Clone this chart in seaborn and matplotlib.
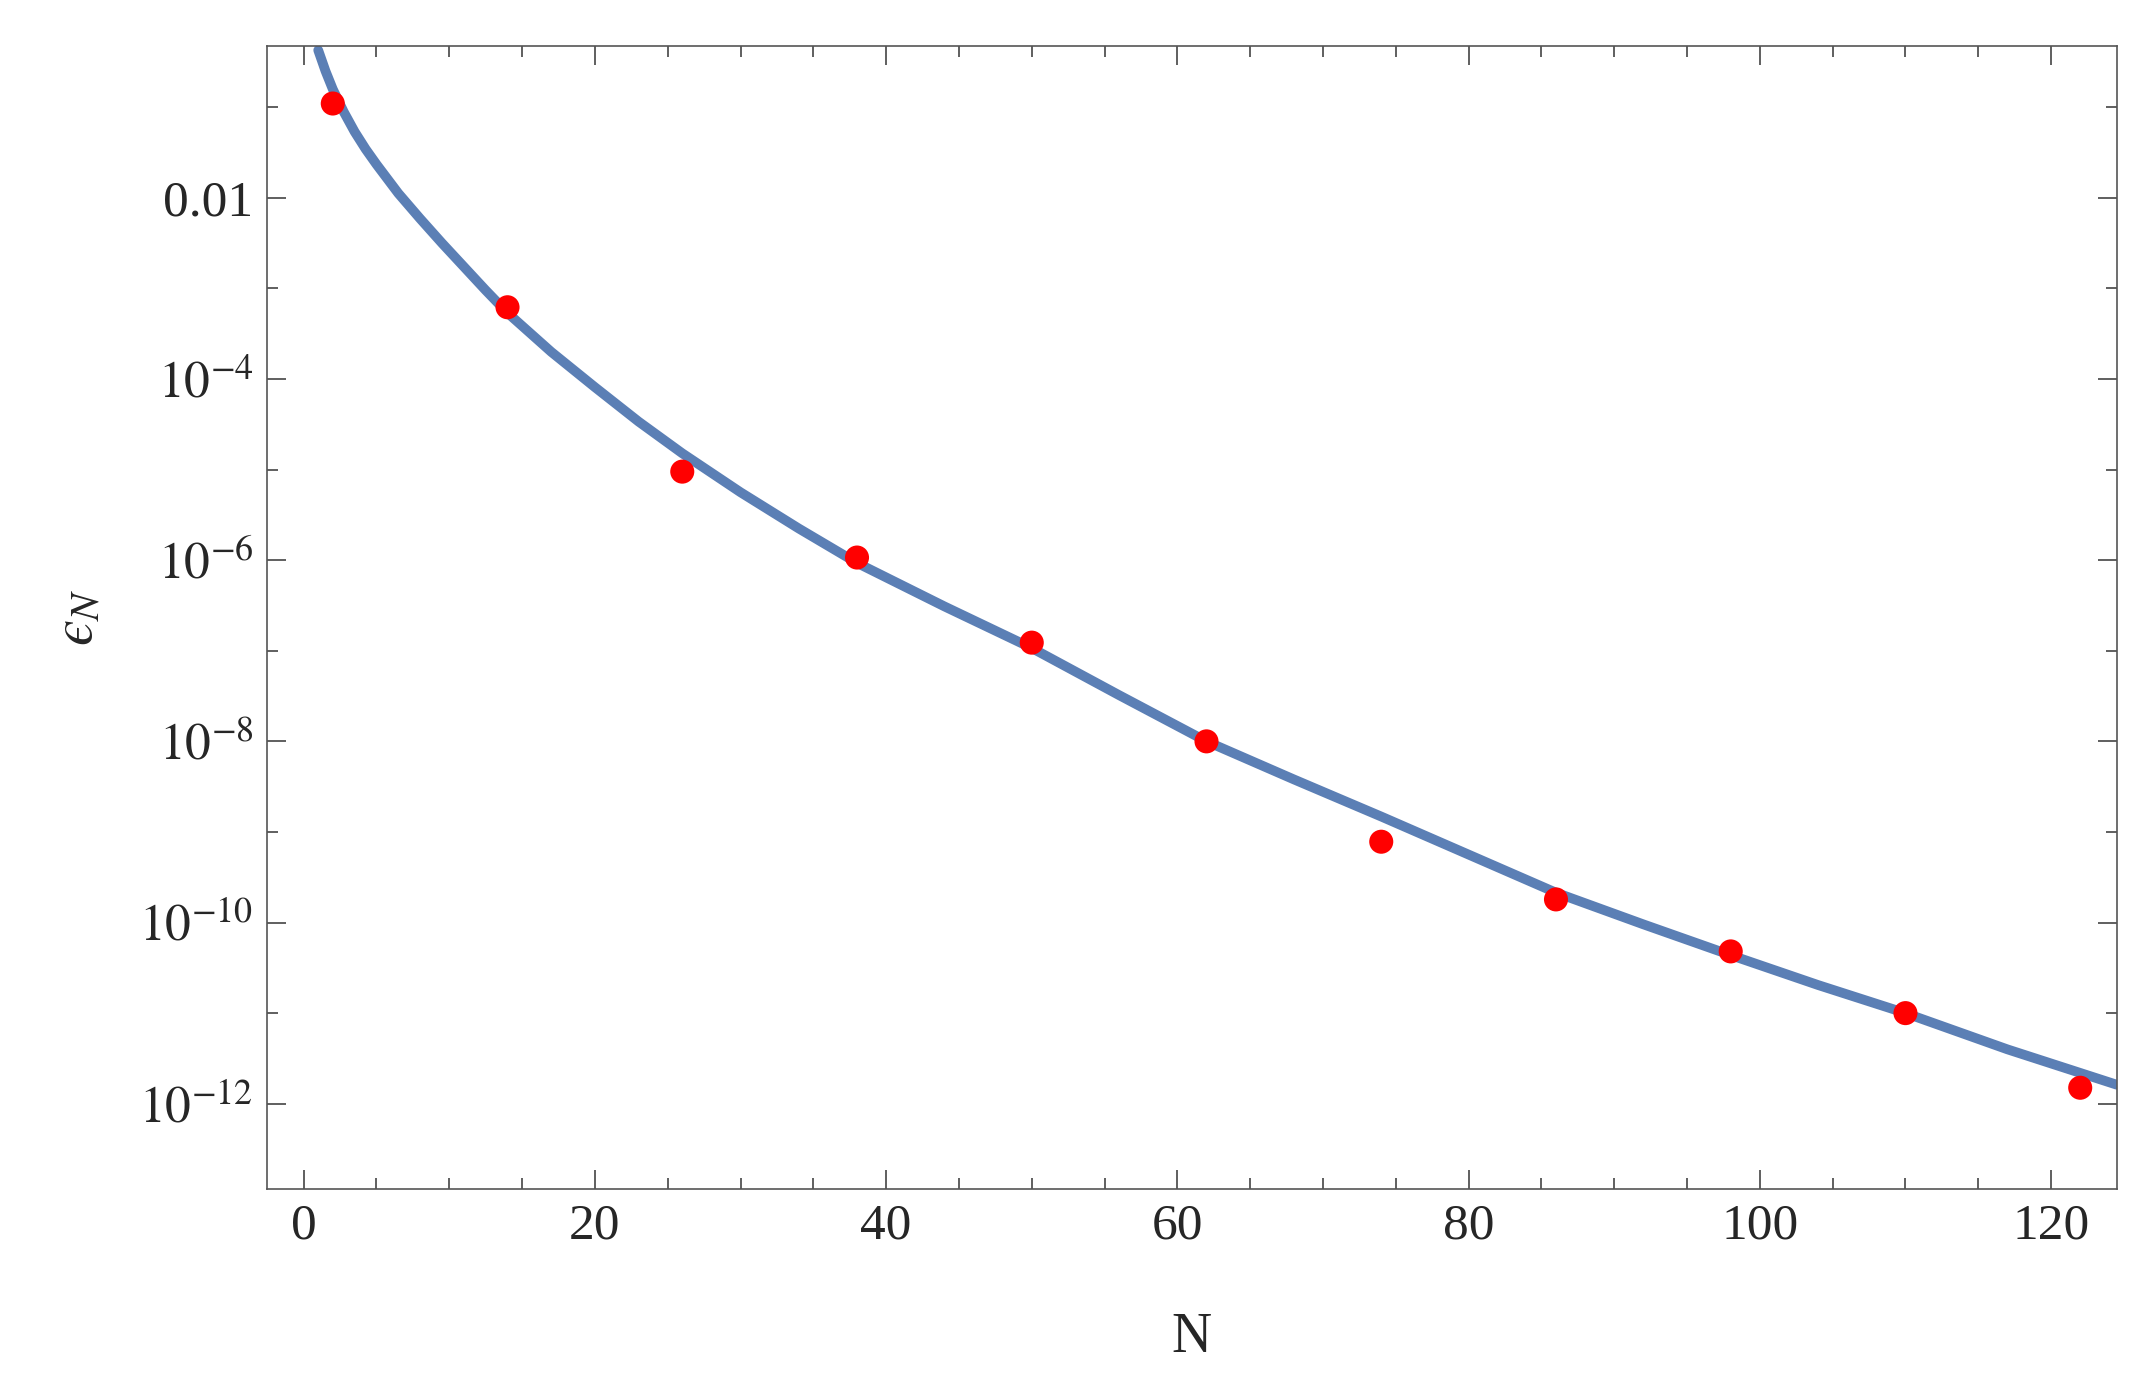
import matplotlib
matplotlib.use("Agg")
import matplotlib.pyplot as plt
import seaborn as sns
import numpy as np
from matplotlib.ticker import FixedLocator, FixedFormatter, MultipleLocator

sns.set_theme(style="ticks")
plt.rcParams['font.family'] = ['Liberation Serif', 'DejaVu Serif']
plt.rcParams['mathtext.fontset'] = 'stix'

pts_N = [2, 14, 26, 38, 50, 62, 74, 86, 98, 110, 122]
pts_eps = [0.11, 6.2e-4, 9.5e-6, 1.07e-6, 1.23e-7, 1.0e-8, 7.8e-10, 1.8e-10, 4.8e-11, 1.0e-11, 1.5e-12]

curve_N = [1, 1.5, 2, 2.75, 3.5, 4.25, 5, 6.5, 8, 9.5, 11, 12.5, 14, 17, 20, 23, 26, 30, 34, 38, 44, 50, 56, 62, 68, 74, 80, 86, 92, 98, 104, 110, 117, 124.5]
curve_log = [-0.37, -0.60, -0.80, -1.05, -1.27, -1.46, -1.63, -1.95, -2.23, -2.50, -2.76, -3.02, -3.27, -3.70, -4.09, -4.47, -4.82, -5.25, -5.65, -6.03, -6.51, -6.97, -7.49, -8.0, -8.42, -8.83, -9.25, -9.67, -10.02, -10.36, -10.69, -11.0, -11.40, -11.79]
curve_eps = [10.0 ** v for v in curve_log]

fig = plt.figure(figsize=(21.38, 13.84), dpi=100)
ax = fig.add_axes([0.125, 0.141, 0.865, 0.826])
sns.lineplot(x=curve_N, y=curve_eps, ax=ax, color="#5b7fb5", lw=7, sort=True)
sns.scatterplot(x=pts_N, y=pts_eps, ax=ax, color="red", s=300, edgecolor="none", zorder=3)
ax.set_yscale("log")
ax.set_xlim(-2.5, 124.5)
ax.set_ylim(10 ** -12.94, 10 ** -0.32)
ax.xaxis.set_major_locator(MultipleLocator(20))
ax.xaxis.set_minor_locator(MultipleLocator(5))
major = [1e-2, 1e-4, 1e-6, 1e-8, 1e-10, 1e-12]
ax.yaxis.set_major_locator(FixedLocator(major))
ax.yaxis.set_major_formatter(FixedFormatter(["0.01", r"$10^{-4}$", r"$10^{-6}$", r"$10^{-8}$", r"$10^{-10}$", r"$10^{-12}$"]))
ax.yaxis.set_minor_locator(FixedLocator([1e-1, 1e-3, 1e-5, 1e-7, 1e-9, 1e-11]))
ax.yaxis.set_minor_formatter(FixedFormatter([""] * 6))
ax.tick_params(which="both", direction="in", top=True, right=True, labelsize=37, width=1.2, color="#444444")
ax.tick_params(which="major", length=14, pad=10)
ax.tick_params(which="minor", length=8)
for s in ax.spines.values():
    s.set_linewidth(1.2)
    s.set_color("#555555")
ax.set_xlabel("N", fontsize=40, labelpad=45)
ax.set_ylabel("$\u03f5_N$", fontsize=42, labelpad=25)
fig.savefig("out.png", dpi=100)
